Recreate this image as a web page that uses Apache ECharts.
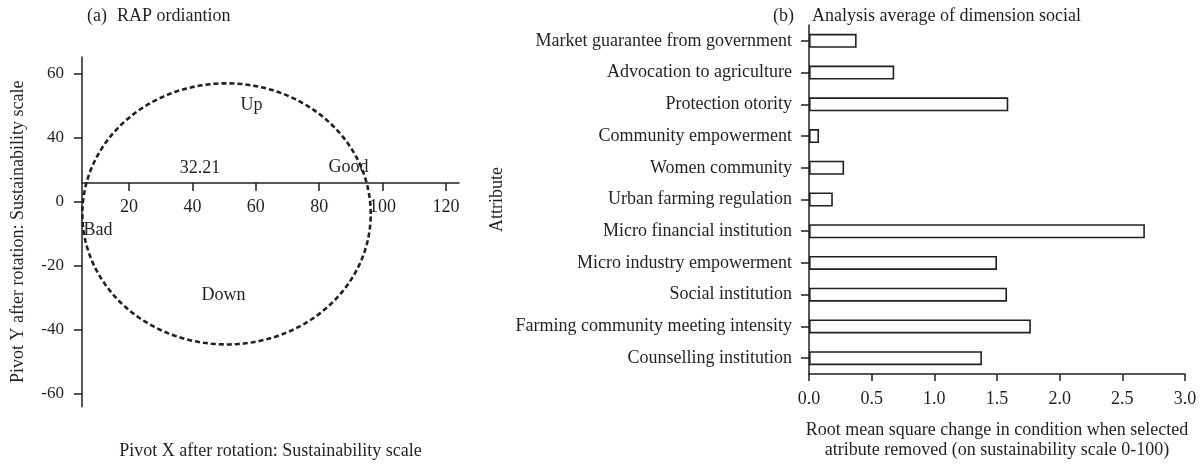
<!DOCTYPE html>
<html>
<head>
<meta charset="utf-8">
<script src="https://cdn.jsdelivr.net/npm/echarts@6/dist/echarts.min.js"></script>
<style>
  html, body { margin: 0; padding: 0; background: #fff; }
  #chart { width: 1203px; height: 465px; }
</style>
</head>
<body>
<div id="chart"></div>
<script>
// ---------- Panel (a): RAP ordination ----------
const xTickValues = [20, 40, 60, 80, 100, 120];
const yTickValues = [-60, -40, -20, 0, 20, 40];
const yTickLabels = ['-60', '-40', '-20', '0', '40', '60'];
// ellipse: [centerX, centerY, radiusX, radiusY]
const ellipseData = [[50.75, -3.74, 45.5, 40.8]];
const annoTexts = ['Up', '32.21', 'Good', 'Bad', 'Down'];
const annoX = [58.6, 42.4, 89.2, 10.2, 49.8];
const annoY = [30.2, 10.5, 10.8, -8.9, -29.3];

// ---------- Panel (b): attributes ----------
const attributes = [
  'Market guarantee from government',
  'Advocation to agriculture',
  'Protection otority',
  'Community empowerment',
  'Women community',
  'Urban farming regulation',
  'Micro financial institution',
  'Micro industry empowerment',
  'Social institution',
  'Farming community meeting intensity',
  'Counselling institution'
];
const rmsValues = [0.38, 0.68, 1.59, 0.08, 0.28, 0.19, 2.68, 1.50, 1.58, 1.77, 1.38];

const FONT = "'Liberation Serif', 'Times New Roman', serif";
const INK = '#231f20';

const chart = echarts.init(document.getElementById('chart'), null, { renderer: 'canvas' });

const titleStyle = { fontFamily: FONT, fontSize: 18, fontWeight: 'normal', color: INK };

const option = {
  backgroundColor: '#fff',
  animation: false,
  title: [
    { text: '(a)', left: 87, top: 7, padding: 0, textStyle: titleStyle },
    { text: 'RAP ordiantion', left: 117, top: 7, padding: 0, textStyle: titleStyle },
    { text: '(b)', left: 773, top: 7, padding: 0, textStyle: titleStyle },
    { text: 'Analysis average of dimension social', left: 812, top: 7, padding: 0, textStyle: titleStyle }
  ],
  grid: [
    { left: 82, top: 57, width: 377, height: 351 },
    { left: 809, top: 25, width: 376, height: 352 }
  ],
  xAxis: [
    {
      type: 'value', gridIndex: 0, min: 5.15, max: 124.1,
      position: 'bottom', offset: -223.7,
      axisLine: { show: true, onZero: false, lineStyle: { color: INK, width: 1.5 } },
      axisTick: { show: true, customValues: xTickValues, length: 8, lineStyle: { color: INK, width: 1.5 } },
      axisLabel: { customValues: xTickValues, fontFamily: FONT, fontSize: 18, color: INK, margin: 15 },
      splitLine: { show: false },
      name: 'Pivot X after rotation: Sustainability scale',
      nameLocation: 'middle', nameGap: 259,
      nameTextStyle: { fontFamily: FONT, fontSize: 18, color: INK }
    },
    {
      type: 'value', gridIndex: 1, min: 0, max: 3, interval: 0.5,
      axisLine: { show: true, onZero: false, lineStyle: { color: INK, width: 1.5 } },
      axisTick: { show: true, length: 7, lineStyle: { color: INK, width: 1.5 } },
      axisLabel: { fontFamily: FONT, fontSize: 18, color: INK, margin: 16,
        formatter: v => v.toFixed(1) },
      splitLine: { show: false },
      name: 'Root mean square change in condition when selected\natribute removed (on sustainability scale 0-100)',
      nameLocation: 'middle', nameGap: 46,
      nameTextStyle: { fontFamily: FONT, fontSize: 18, color: INK, lineHeight: 20 }
    }
  ],
  yAxis: [
    {
      type: 'value', gridIndex: 0, min: -64.0, max: 45.3,
      axisLine: { show: true, onZero: false, lineStyle: { color: INK, width: 1.5 } },
      axisTick: { show: true, customValues: yTickValues, length: 8, lineStyle: { color: INK, width: 1.5 } },
      axisLabel: { customValues: yTickValues, fontFamily: FONT, fontSize: 17, color: INK, margin: 18,
        formatter: v => yTickLabels[yTickValues.indexOf(v)] },
      splitLine: { show: false },
      name: 'Pivot Y after rotation: Sustainability scale',
      nameLocation: 'middle', nameGap: 55,
      nameTextStyle: { fontFamily: FONT, fontSize: 18, color: INK }
    },
    {
      type: 'category', gridIndex: 1, data: attributes, inverse: true,
      axisLine: { show: true, onZero: false, lineStyle: { color: INK, width: 1.5 } },
      axisTick: { show: true, alignWithLabel: true, length: 8, lineStyle: { color: INK, width: 1.5 } },
      axisLabel: { fontFamily: FONT, fontSize: 18, color: INK, margin: 17, interval: 0 },
      splitLine: { show: false },
      name: 'Attribute',
      nameLocation: 'middle', nameGap: 303,
      nameTextStyle: { fontFamily: FONT, fontSize: 18, color: INK }
    }
  ],
  series: [
    {
      type: 'scatter', xAxisIndex: 0, yAxisIndex: 0,
      symbolSize: 0, silent: true,
      itemStyle: { opacity: 1 },
      data: annoTexts.map((t, i) => ({ name: t, value: [annoX[i], annoY[i]] })),
      label: { show: true, position: 'inside', formatter: p => p.name, opacity: 1,
        fontFamily: FONT, fontSize: 18, color: INK }
    },
    {
      type: 'custom', xAxisIndex: 0, yAxisIndex: 0, silent: true,
      data: ellipseData,
      renderItem: function (params, api) {
        const cx = api.value(0), cy = api.value(1), rx = api.value(2), ry = api.value(3);
        const pts = [];
        const n = 240;
        for (let k = 0; k <= n; k++) {
          const a = (k / n) * Math.PI * 2;
          pts.push(api.coord([cx + rx * Math.cos(a), cy + ry * Math.sin(a)]));
        }
        return {
          type: 'polyline',
          shape: { points: pts },
          style: { stroke: INK, lineWidth: 2.6, fill: null, lineDash: [5, 3] }
        };
      }
    },
    {
      type: 'bar', xAxisIndex: 1, yAxisIndex: 1,
      data: rmsValues, barWidth: 14,
      itemStyle: { color: '#ffffff', borderColor: INK, borderWidth: 1.6 }
    }
  ]
};
chart.setOption(option);
</script>
</body>
</html>
